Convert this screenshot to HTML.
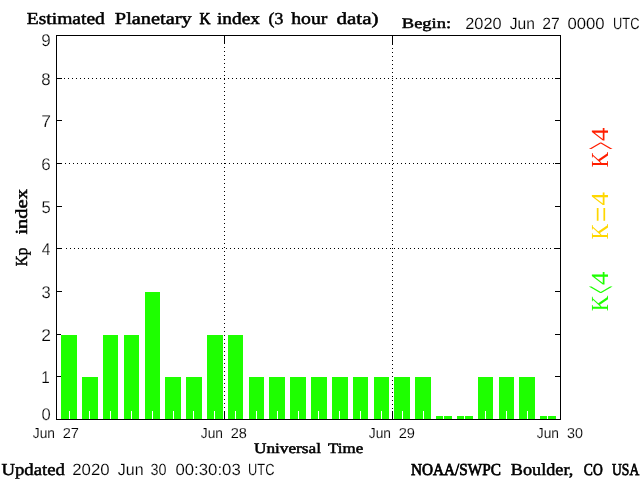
<!DOCTYPE html>
<html lang="en"><head><meta charset="utf-8"><title>Estimated Planetary K index</title>
<style>
html,body{margin:0;padding:0;background:#fff;}
body{width:640px;height:480px;overflow:hidden;position:relative;}
svg{position:absolute;left:0;top:0;display:block;}
.ce{shape-rendering:crispEdges;}
text{white-space:pre;text-rendering:geometricPrecision;}
</style></head><body>
<svg width="640" height="480" viewBox="0 0 640 480">
<rect width="640" height="480" fill="#fff"/>
<g class="ce">
<g fill="#1eff00"><rect x="61" y="335" width="16" height="84"/><rect x="82" y="377" width="16" height="42"/><rect x="103" y="335" width="15" height="84"/><rect x="124" y="335" width="15" height="84"/><rect x="145" y="292" width="15" height="127"/><rect x="165" y="377" width="16" height="42"/><rect x="186" y="377" width="16" height="42"/><rect x="207" y="335" width="16" height="84"/><rect x="228" y="335" width="15" height="84"/><rect x="249" y="377" width="15" height="42"/><rect x="269" y="377" width="16" height="42"/><rect x="290" y="377" width="16" height="42"/><rect x="311" y="377" width="16" height="42"/><rect x="332" y="377" width="16" height="42"/><rect x="353" y="377" width="15" height="42"/><rect x="374" y="377" width="15" height="42"/><rect x="394" y="377" width="16" height="42"/><rect x="415" y="377" width="16" height="42"/><rect x="436" y="416" width="16" height="3"/><rect x="457" y="416" width="16" height="3"/><rect x="478" y="377" width="15" height="42"/><rect x="499" y="377" width="15" height="42"/><rect x="519" y="377" width="16" height="42"/><rect x="540" y="416" width="16" height="3"/></g>
<g fill="#ffffff"><rect x="69" y="411" width="1" height="8"/><rect x="89" y="411" width="1" height="8"/><rect x="110" y="411" width="1" height="8"/><rect x="131" y="411" width="1" height="8"/><rect x="152" y="411" width="1" height="8"/><rect x="173" y="411" width="1" height="8"/><rect x="193" y="411" width="1" height="8"/><rect x="214" y="411" width="1" height="8"/><rect x="235" y="411" width="1" height="8"/><rect x="256" y="411" width="1" height="8"/><rect x="277" y="411" width="1" height="8"/><rect x="298" y="411" width="1" height="8"/><rect x="318" y="411" width="1" height="8"/><rect x="339" y="411" width="1" height="8"/><rect x="360" y="411" width="1" height="8"/><rect x="381" y="411" width="1" height="8"/><rect x="402" y="411" width="1" height="8"/><rect x="423" y="411" width="1" height="8"/><rect x="443" y="416" width="1" height="3"/><rect x="464" y="416" width="1" height="3"/><rect x="485" y="411" width="1" height="8"/><rect x="506" y="411" width="1" height="8"/><rect x="527" y="411" width="1" height="8"/><rect x="547" y="416" width="1" height="3"/></g>
<g stroke="#000" stroke-width="1" stroke-dasharray="1 3" fill="none"><line x1="66" y1="248.5" x2="555" y2="248.5"/><line x1="65" y1="163.5" x2="555" y2="163.5"/><line x1="64" y1="78.5" x2="555" y2="78.5"/><line x1="224.5" y1="47" x2="224.5" y2="411"/><line x1="392.5" y1="44" x2="392.5" y2="411"/></g>
<g fill="#000"><rect x="56" y="35" width="505" height="1"/><rect x="56" y="419" width="505" height="1"/><rect x="56" y="35" width="1" height="385"/><rect x="560" y="35" width="1" height="385"/><rect x="57" y="376" width="4" height="1"/><rect x="555" y="376" width="5" height="1"/><rect x="57" y="334" width="4" height="1"/><rect x="555" y="334" width="5" height="1"/><rect x="57" y="291" width="5" height="1"/><rect x="555" y="291" width="5" height="1"/><rect x="57" y="248" width="5" height="1"/><rect x="555" y="248" width="5" height="1"/><rect x="57" y="206" width="5" height="1"/><rect x="555" y="206" width="5" height="1"/><rect x="57" y="163" width="5" height="1"/><rect x="555" y="163" width="5" height="1"/><rect x="57" y="120" width="5" height="1"/><rect x="555" y="120" width="5" height="1"/><rect x="57" y="78" width="5" height="1"/><rect x="555" y="78" width="5" height="1"/><rect x="224" y="36" width="1" height="8"/><rect x="224" y="411" width="1" height="8"/><rect x="392" y="36" width="1" height="8"/><rect x="392" y="411" width="1" height="8"/></g>
</g>
<g><text transform="translate(26.83,24) scale(1.163,1)" font-family="'Liberation Serif', serif" font-weight="normal" font-size="16.8" fill="#000" stroke="#000" stroke-width="0.5">Estimated</text>
<text transform="translate(114.82,24) scale(1.212,1)" font-family="'Liberation Serif', serif" font-weight="normal" font-size="16.8" fill="#000" stroke="#000" stroke-width="0.5">Planetary</text>
<text transform="translate(199.42,24) scale(0.900,1)" font-family="'Liberation Serif', serif" font-weight="normal" font-size="16.8" fill="#000" stroke="#000" stroke-width="0.75">K</text>
<text transform="translate(216.94,24) scale(1.152,1)" font-family="'Liberation Serif', serif" font-weight="normal" font-size="16.8" fill="#000" stroke="#000" stroke-width="0.5">index</text>
<text transform="translate(268.52,24) scale(1.061,1)" font-family="'Liberation Serif', serif" font-weight="normal" font-size="16.8" fill="#000" stroke="#000" stroke-width="0.5">(3</text>
<text transform="translate(291.18,24) scale(1.174,1)" font-family="'Liberation Serif', serif" font-weight="normal" font-size="16.8" fill="#000" stroke="#000" stroke-width="0.5">hour</text>
<text transform="translate(336.56,24) scale(1.251,1)" font-family="'Liberation Serif', serif" font-weight="normal" font-size="16.8" fill="#000" stroke="#000" stroke-width="0.5">data)</text>
<text transform="translate(401.81,28) scale(1.275,1)" font-family="'Liberation Serif', serif" font-weight="normal" font-size="14.5" fill="#000" stroke="#000" stroke-width="0.5">Begin:</text>
<text transform="translate(465.24,29) scale(1.089,1.08)" font-family="'Liberation Sans', sans-serif" font-weight="normal" font-size="15" fill="#000" stroke="#fff" stroke-width="0.12">2020</text>
<text transform="translate(509.79,29) scale(1.042,1.08)" font-family="'Liberation Sans', sans-serif" font-weight="normal" font-size="15" fill="#000" stroke="#fff" stroke-width="0.12">Jun</text>
<text transform="translate(542.27,29) scale(1.050,1.08)" font-family="'Liberation Sans', sans-serif" font-weight="normal" font-size="15" fill="#000" stroke="#fff" stroke-width="0.12">27</text>
<text transform="translate(567.44,29) scale(1.114,1.08)" font-family="'Liberation Sans', sans-serif" font-weight="normal" font-size="15" fill="#000" stroke="#fff" stroke-width="0.12">0000</text>
<text transform="translate(613.06,29) scale(0.856,1.08)" font-family="'Liberation Sans', sans-serif" font-weight="normal" font-size="15" fill="#000" stroke="#fff" stroke-width="0.12">UTC</text>
<text transform="translate(1.44,475) scale(1.116,1)" font-family="'Liberation Serif', serif" font-weight="normal" font-size="16.8" fill="#000" stroke="#000" stroke-width="0.5">Updated</text>
<text transform="translate(72.22,475) scale(1.121,1.08)" font-family="'Liberation Sans', sans-serif" font-weight="normal" font-size="15" fill="#000" stroke="#fff" stroke-width="0.12">2020</text>
<text transform="translate(117.79,475) scale(1.063,1.08)" font-family="'Liberation Sans', sans-serif" font-weight="normal" font-size="15" fill="#000" stroke="#fff" stroke-width="0.12">Jun</text>
<text transform="translate(150.52,475) scale(0.959,1.08)" font-family="'Liberation Sans', sans-serif" font-weight="normal" font-size="15" fill="#000" stroke="#fff" stroke-width="0.12">30</text>
<text transform="translate(175.44,475) scale(1.118,1.08)" font-family="'Liberation Sans', sans-serif" font-weight="normal" font-size="15" fill="#000" stroke="#fff" stroke-width="0.12">00:30:03</text>
<text transform="translate(248.06,475) scale(0.856,1.08)" font-family="'Liberation Sans', sans-serif" font-weight="normal" font-size="15" fill="#000" stroke="#fff" stroke-width="0.12">UTC</text>
<text transform="translate(410.98,475) scale(0.910,1)" font-family="'Liberation Serif', serif" font-weight="normal" font-size="16.8" fill="#000" stroke="#000" stroke-width="0.75">NOAA/SWPC</text>
<text transform="translate(510.84,475) scale(1.084,1)" font-family="'Liberation Serif', serif" font-weight="normal" font-size="16.8" fill="#000" stroke="#000" stroke-width="0.5">Boulder,</text>
<text transform="translate(583.82,475) scale(0.809,1)" font-family="'Liberation Serif', serif" font-weight="normal" font-size="16.8" fill="#000" stroke="#000" stroke-width="0.75">CO</text>
<text transform="translate(612.06,475) scale(0.808,1)" font-family="'Liberation Serif', serif" font-weight="normal" font-size="16.8" fill="#000" stroke="#000" stroke-width="0.75">USA</text>
<text transform="translate(253.94,453) scale(1.189,1)" font-family="'Liberation Serif', serif" font-weight="normal" font-size="14.5" fill="#000" stroke="#000" stroke-width="0.5">Universal</text>
<text transform="translate(328.06,453) scale(1.168,1)" font-family="'Liberation Serif', serif" font-weight="normal" font-size="14.5" fill="#000" stroke="#000" stroke-width="0.5">Time</text>
<text transform="translate(32.81,438) scale(0.950,1)" font-family="'Liberation Sans', sans-serif" font-weight="normal" font-size="14.5" fill="#000" stroke="#fff" stroke-width="0.12">Jun</text>
<text transform="translate(62.69,438) scale(1.009,1)" font-family="'Liberation Sans', sans-serif" font-weight="normal" font-size="14.5" fill="#000" stroke="#fff" stroke-width="0.12">27</text>
<text transform="translate(200.81,438) scale(0.950,1)" font-family="'Liberation Sans', sans-serif" font-weight="normal" font-size="14.5" fill="#000" stroke="#fff" stroke-width="0.12">Jun</text>
<text transform="translate(230.70,438) scale(1.002,1)" font-family="'Liberation Sans', sans-serif" font-weight="normal" font-size="14.5" fill="#000" stroke="#fff" stroke-width="0.12">28</text>
<text transform="translate(368.81,438) scale(0.950,1)" font-family="'Liberation Sans', sans-serif" font-weight="normal" font-size="14.5" fill="#000" stroke="#fff" stroke-width="0.12">Jun</text>
<text transform="translate(398.69,438) scale(1.009,1)" font-family="'Liberation Sans', sans-serif" font-weight="normal" font-size="14.5" fill="#000" stroke="#fff" stroke-width="0.12">29</text>
<text transform="translate(536.81,438) scale(0.950,1)" font-family="'Liberation Sans', sans-serif" font-weight="normal" font-size="14.5" fill="#000" stroke="#fff" stroke-width="0.12">Jun</text>
<text transform="translate(566.91,438) scale(0.989,1)" font-family="'Liberation Sans', sans-serif" font-weight="normal" font-size="14.5" fill="#000" stroke="#fff" stroke-width="0.12">30</text>
<text transform="translate(41.41,420) scale(0.976,1)" font-family="'Liberation Sans', sans-serif" font-weight="normal" font-size="17" fill="#000" stroke="#fff" stroke-width="0.22">0</text>
<text transform="translate(41.30,383) scale(0.900,1)" font-family="'Liberation Sans', sans-serif" font-weight="normal" font-size="17" fill="#000" stroke="#fff" stroke-width="0.22">1</text>
<text transform="translate(41.18,341) scale(1.026,1)" font-family="'Liberation Sans', sans-serif" font-weight="normal" font-size="17" fill="#000" stroke="#fff" stroke-width="0.22">2</text>
<text transform="translate(41.41,298) scale(0.976,1)" font-family="'Liberation Sans', sans-serif" font-weight="normal" font-size="17" fill="#000" stroke="#fff" stroke-width="0.22">3</text>
<text transform="translate(41.72,255) scale(0.920,1)" font-family="'Liberation Sans', sans-serif" font-weight="normal" font-size="17" fill="#000" stroke="#fff" stroke-width="0.22">4</text>
<text transform="translate(41.41,213) scale(0.976,1)" font-family="'Liberation Sans', sans-serif" font-weight="normal" font-size="17" fill="#000" stroke="#fff" stroke-width="0.22">5</text>
<text transform="translate(41.20,170) scale(1.000,1)" font-family="'Liberation Sans', sans-serif" font-weight="normal" font-size="17" fill="#000" stroke="#fff" stroke-width="0.22">6</text>
<text transform="translate(41.18,127) scale(1.026,1)" font-family="'Liberation Sans', sans-serif" font-weight="normal" font-size="17" fill="#000" stroke="#fff" stroke-width="0.22">7</text>
<text transform="translate(41.31,85) scale(0.988,1)" font-family="'Liberation Sans', sans-serif" font-weight="normal" font-size="17" fill="#000" stroke="#fff" stroke-width="0.22">8</text>
<text transform="translate(41.30,46) scale(1.000,1)" font-family="'Liberation Sans', sans-serif" font-weight="normal" font-size="17" fill="#000" stroke="#fff" stroke-width="0.22">9</text>
<text transform="translate(27,266.13) rotate(-90) scale(0.899,1)" font-family="'Liberation Serif', serif" font-weight="normal" font-size="16.8" fill="#000" stroke="#000" stroke-width="0.5">Kp</text>
<text transform="translate(27,234.56) rotate(-90) scale(1.219,1)" font-family="'Liberation Serif', serif" font-weight="normal" font-size="16.8" fill="#000" stroke="#000" stroke-width="0.5">index</text></g>
<g><text transform="translate(608.00,167.62) rotate(-90) scale(0.893,1.000)" font-family="'Liberation Serif', serif" font-size="24.5" fill="#ff1e00">K</text>
<text transform="translate(617.40,149.70) rotate(-90) scale(0.583,2.000)" font-family="'Liberation Serif', serif" font-size="24.5" fill="#ff1e00">&gt;</text>
<text transform="translate(608.00,140.93) rotate(-90) scale(1.087,1.000)" font-family="'Liberation Serif', serif" font-size="24.5" fill="#ff1e00">4</text>
<text transform="translate(608.00,239.38) rotate(-90) scale(0.893,1.000)" font-family="'Liberation Serif', serif" font-size="24.5" fill="#ffd700">K</text>
<text transform="translate(612.11,222.36) rotate(-90) scale(1.130,1.355)" font-family="'Liberation Serif', serif" font-size="24.5" fill="#ffd700">=</text>
<text transform="translate(608.00,205.43) rotate(-90) scale(1.087,1.000)" font-family="'Liberation Serif', serif" font-size="24.5" fill="#ffd700">4</text>
<text transform="translate(608.00,311.23) rotate(-90) scale(0.893,1.000)" font-family="'Liberation Serif', serif" font-size="24.5" fill="#1eff00">K</text>
<text transform="translate(617.40,293.70) rotate(-90) scale(0.583,2.000)" font-family="'Liberation Serif', serif" font-size="24.5" fill="#1eff00">&lt;</text>
<text transform="translate(608.00,284.93) rotate(-90) scale(1.087,1.000)" font-family="'Liberation Serif', serif" font-size="24.5" fill="#1eff00">4</text></g>
</svg>
</body></html>
